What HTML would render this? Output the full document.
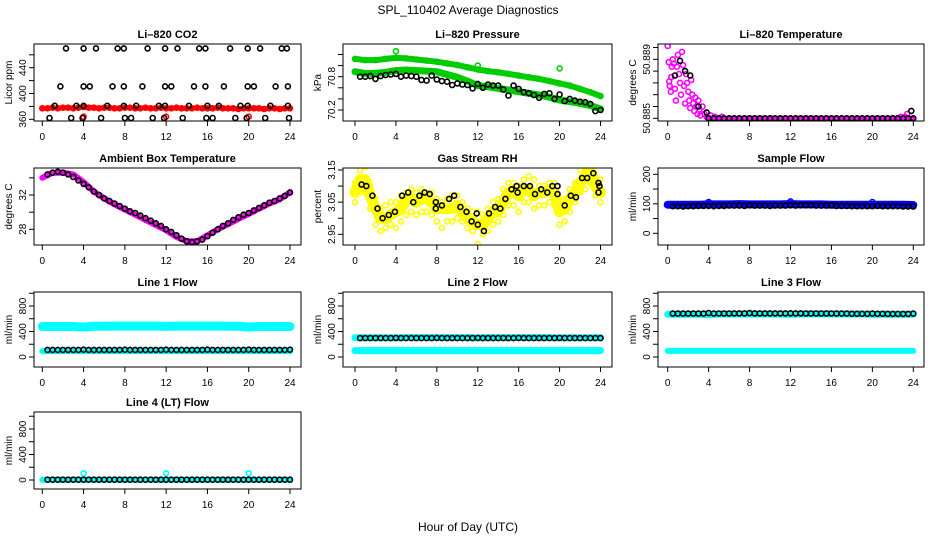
<!DOCTYPE html>
<html><head><meta charset="utf-8"><title>SPL_110402 Average Diagnostics</title>
<style>
html,body{margin:0;padding:0;background:#fff;}
svg{display:block;font-family:"Liberation Sans",Arial,sans-serif;}
</style></head>
<body>
<svg id="fig" width="936" height="540" viewBox="0 0 936 540" xmlns="http://www.w3.org/2000/svg">
<rect x="0" y="0" width="936" height="540" fill="#fff"/>
<text x="468" y="14" font-size="12" text-anchor="middle">SPL_110402  Average Diagnostics</text>
<text x="468" y="531" font-size="12" text-anchor="middle">Hour of Day (UTC)</text>
</svg>
<script>
// ---- shared x data ----
const hourGrid=[0,1,2,3,4,5,6,7,8,9,10,11,12,13,14,15,16,17,18,19,20,21,22,23,24];
const halfGrid=[0,0.5,1,1.5,2,2.5,3,3.5,4,4.5,5,5.5,6,6.5,7,7.5,8,8.5,9,9.5,10,10.5,11,11.5,12,12.5,13,13.5,14,14.5,15,15.5,16,16.5,17,17.5,18,18.5,19,19.5,20,20.5,21,21.5,22,22.5,23,23.5,24];
const halfHours=[0.5,1,1.5,2,2.5,3,3.5,4,4.5,5,5.5,6,6.5,7,7.5,8,8.5,9,9.5,10,10.5,11,11.5,12,12.5,13,13.5,14,14.5,15,15.5,16,16.5,17,17.5,18,18.5,19,19.5,20,20.5,21,21.5,22,22.5,23,23.5,24];
const xTicks=[0,4,8,12,16,20,24];
const outlierHours=[4,12,20];

// ---- CO2 ----
const co2Red=[377,377,378,377,378,378,377,378,379,378,378,377,378,378,377,377,378,378,377,377,378,377,377,378,377,377,378,377,377,377,378,377,377,377,378,377,377,377,376,377,377,377,377,376,377,377,376,377,377];
const co2RedOutliers=[364,364,364];
const co2BlackHours=[2.3,4.0,5.2,7.3,7.9,10.2,11.9,13.1,15.2,15.8,18.2,19.9,21.1,23.2,23.7, 1.75,4.0,4.6,6.8,7.9,9.7,11.9,12.5,14.7,15.8,17.6,19.9,20.5,22.6,23.8, 1.2,3.3,4.0,6.3,7.9,9.1,11.3,11.9,14.2,16.0,17.1,19.2,19.9,22.1,23.8, 0.7,2.8,3.9,5.7,8.0,8.6,10.7,11.8,13.6,15.9,16.5,18.7,19.8,21.6,23.9];
const co2BlackVals=[470,470,470,470,470,470,470,470,470,470,470,470,470,470,470, 411,411,411,411,411,411,411,411,411,411,411,411,411,411,411, 381,381,381,381,381,381,381,381,381,381,381,381,381,381,381, 362,362,362,362,362,362,362,362,362,362,362,362,362,362,362];
const co2Ticks=[360,380,400,420,440,460];
const co2Labels=[360,400,440];

// ---- Pressure ----
const presUpper=[71.12,71.10,71.10,71.12,71.14,71.13,71.11,71.09,71.07,71.04,71.01,70.97,70.93,70.90,70.88,70.85,70.82,70.79,70.76,70.72,70.68,70.64,70.58,70.52,70.45];
const presLower=[70.89,70.86,70.86,70.88,70.91,70.92,70.91,70.90,70.89,70.84,70.79,70.72,70.64,70.62,70.59,70.56,70.53,70.50,70.47,70.43,70.38,70.35,70.32,70.28,70.22];
const presOutliers=[71.26,71.0,70.95];
const presBlack=[70.80,70.80,70.81,70.76,70.81,70.83,70.84,70.85,70.80,70.82,70.81,70.80,70.74,70.73,70.82,70.75,70.72,70.71,70.65,70.68,70.66,70.65,70.59,70.67,70.60,70.66,70.64,70.64,70.57,70.46,70.64,70.58,70.52,70.50,70.47,70.42,70.49,70.50,70.40,70.48,70.36,70.40,70.37,70.35,70.34,70.31,70.18,70.20];
const presTicks=[70.2,70.4,70.6,70.8,71.0,71.2];
const presLabels=[70.2,70.8];

// ---- Li-820 temperature ----
const tempPinkHours=[0,0.1,0.15,0.2,0.3,0.35,0.4,0.5,0.6,0.7,0.8,0.9,1.0,1.1,1.2,1.3,1.4,1.5,1.6,1.7,1.8,1.9,2.0,2.1,2.2,2.3,2.4,2.5,2.6,2.7,2.8,2.9,3.0,3.1,3.2,3.4,3.6,3.8,4.2,4.6,5.3,22.8,23.2,23.4];
const tempPinkVals=[50.8899,50.8888,50.8875,50.8872,50.8868,50.8878,50.8885,50.8890,50.8887,50.8870,50.8862,50.8885,50.8893,50.8880,50.8874,50.8866,50.8895,50.8886,50.8872,50.8860,50.8880,50.8874,50.8868,50.8862,50.8857,50.8876,50.8866,50.8860,50.8855,50.8864,50.8858,50.8853,50.8862,50.8856,50.8852,50.8858,50.8853,50.8851,50.8852,50.8851,50.8851,50.8851,50.8851,50.8853];
const tempFlat=[50.8850,50.8850,50.8850,50.8850,50.8850,50.8850,50.8850,50.8850,50.8850,50.8850,50.8850,50.8850,50.8850,50.8850,50.8850,50.8850,50.8850,50.8850,50.8850,50.8850,50.8850];
const tempFlatHours=[4,5,6,7,8,9,10,11,12,13,14,15,16,17,18,19,20,21,22,23,24];
const tempBlackHours=[0.7,1.2,1.7,2.2,3.0,3.8,4,4.5,5,5.5,6,6.5,7,7.5,8,8.5,9,9.5,10,10.5,11,11.5,12,12.5,13,13.5,14,14.5,15,15.5,16,16.5,17,17.5,18,18.5,19,19.5,20,20.5,21,21.5,22,22.5,23,23.5,23.8,24];
const tempBlackVals=[50.8879,50.8889,50.8882,50.8879,50.8858,50.8854,50.8850,50.8850,50.8850,50.8850,50.8850,50.8850,50.8850,50.8850,50.8850,50.8850,50.8850,50.8850,50.8850,50.8850,50.8850,50.8850,50.8850,50.8850,50.8850,50.8850,50.8850,50.8850,50.8850,50.8850,50.8850,50.8850,50.8850,50.8850,50.8850,50.8850,50.8850,50.8850,50.8850,50.8850,50.8850,50.8850,50.8850,50.8850,50.8850,50.8850,50.8855,50.8850];
const tempTicks=[50.885,50.8858,50.8866,50.8874,50.8882,50.889,50.8898];
const tempLabels=[50.885,50.889];

// ---- Ambient box temperature ----
const ambPink=[34.0,34.6,34.6,34.4,33.5,32.4,31.6,30.9,30.3,29.7,29.1,28.5,27.9,27.1,26.6,26.6,27.3,28.0,28.6,29.2,29.8,30.4,31.0,31.5,32.3];
const ambBlack=[34.4,34.6,34.7,34.6,34.4,34.1,33.7,33.3,32.9,32.4,32.0,31.6,31.3,31.0,30.7,30.4,30.1,29.9,29.6,29.3,29.0,28.7,28.4,28.0,27.7,27.3,26.9,26.6,26.5,26.6,26.8,27.2,27.6,28.0,28.4,28.7,29.1,29.4,29.7,29.9,30.2,30.5,30.8,31.1,31.3,31.6,31.9,32.3];
const ambTicks=[28,30,32,34];
const ambLabels=[28,32];

// ---- Gas stream RH ----
const rhYellow=[3.08,3.12,3.12,3.07,3.03,3.00,3.00,3.01,3.02,3.03,3.06,3.06,3.05,3.06,3.06,3.05,3.03,3.03,3.03,3.03,3.04,3.02,3.00,2.99,2.98,2.98,3.00,3.02,3.02,3.05,3.08,3.08,3.07,3.09,3.09,3.07,3.08,3.08,3.09,3.08,3.02,3.03,3.06,3.08,3.11,3.13,3.15,3.10,3.08];
const rhYellowHi=[3.11,3.15,3.16,3.10,3.06,3.03,3.04,3.05,3.05,3.07,3.08,3.09,3.08,3.09,3.08,3.08,3.06,3.05,3.06,3.07,3.07,3.05,3.03,3.02,3.02,3.01,3.03,3.05,3.06,3.09,3.11,3.11,3.10,3.12,3.13,3.12,3.10,3.10,3.11,3.11,3.06,3.06,3.09,3.11,3.15,3.16,3.17,3.13,3.12];
const rhYellowLo=[3.05,3.08,3.08,3.03,2.98,2.96,2.97,2.98,2.97,2.99,3.01,3.02,3.01,3.02,3.02,3.01,2.99,2.97,2.99,2.99,3.00,2.99,2.97,2.96,2.92,2.95,2.96,2.98,2.99,3.01,3.04,3.04,3.02,3.05,3.05,3.03,3.04,3.04,3.05,3.04,2.98,2.99,3.02,3.05,3.08,3.09,3.11,3.07,3.05];
const rhBlackHours=[0.65,1.1,1.7,2.2,2.7,3.3,3.9,4.6,5.2,5.7,6.3,6.8,7.3,7.9,7.9,8.5,9.2,9.7,10.3,10.9,11.4,11.9,12.0,12.6,13.1,13.7,14.2,14.7,15.3,15.8,15.9,16.5,17.1,17.6,18.2,18.8,19.3,19.8,19.8,20.5,21.1,21.6,22.2,22.7,23.3,23.8,23.9,23.8];
const rhBlackVals=[3.105,3.10,3.07,3.03,3.00,3.01,3.02,3.07,3.08,3.05,3.07,3.08,3.075,3.05,3.03,3.04,3.06,3.07,3.035,3.02,2.99,3.015,2.98,2.96,3.015,3.035,3.03,3.06,3.09,3.10,3.08,3.10,3.10,3.075,3.09,3.08,3.10,3.10,3.075,3.04,3.07,3.065,3.125,3.125,3.14,3.11,3.10,3.08];
const rhTicks=[2.95,3.00,3.05,3.10,3.15];
const rhLabels=[2.95,3.05,3.15];

// ---- Sample flow ----
const sampleBlue=[97,97,97,97,98,98,98,99,98,98,98,98,99,98,98,98,97,97,97,97,97,97,97,97,96];
const sampleOutliers=[106,108,106];
const sampleBlack=[92,92,91,92,92,93,93,93,92,93,93,94,94,94,93,95,94,94,94,93,94,94,94,95,94,95,95,95,94,94,94,95,93,93,93,92,92,92,92,92,93,92,92,92,92,91,91,91];
const sampleTicks=[0,50,100,150,200];
const sampleLabels=[0,100,200];

// ---- Line flows ----
const flowTicks=[0,200,400,600,800,1000];
const flowLabels=[0,400,800];
const line1Upper=[478,478,478,478,470,482,483,484,484,484,484,484,480,484,484,484,484,484,483,482,470,478,478,478,478];
const line1Lower=[92,92,92,92,92,92,92,92,92,92,92,92,92,92,92,92,92,92,92,92,92,92,92,92,92];
const line1Black=[112,112,112,112,112,112,112,114,112,112,112,112,112,112,112,114,112,112,112,112,112,112,112,114,112,112,112,112,112,112,112,114,112,112,112,112,112,112,112,114,112,112,112,112,112,112,112,114];
const line2Upper=[303,303,303,303,300,305,305,305,305,305,305,305,300,305,305,305,305,305,305,305,300,303,303,303,303];
const line2Lower=[100,100,100,100,100,100,100,100,100,100,100,100,100,100,100,100,100,100,100,100,100,100,100,100,100];
const line2Black=[296,296,296,296,296,296,296,300,296,296,296,296,296,296,296,300,296,296,296,296,296,296,296,300,296,296,296,296,296,296,296,300,296,296,296,296,296,296,296,300,296,296,296,296,296,296,296,296];
const line3Upper=[670,672,672,672,665,674,675,675,675,675,675,675,668,676,676,676,676,674,674,674,668,672,672,672,670];
const line3Lower=[96,96,96,96,96,96,96,96,96,96,96,96,96,96,96,96,96,96,96,96,96,96,96,96,96];
const line3Black=[680,680,680,680,680,680,680,690,682,682,682,682,684,684,684,688,684,684,684,684,684,684,684,686,684,684,682,682,682,682,682,682,680,680,680,678,678,678,678,680,678,678,676,676,676,676,676,680];
const line4Cyan=[5,5,5,5,5,5,5,5,5,5,5,5,5,5,5,5,5,5,5,5,5,5,5,5,5];
const line4Outliers=[105,105,105];
const line4Black=[5,5,5,5,5,5,5,5,5,5,5,5,5,5,5,5,5,5,5,5,5,5,5,5,5,5,5,5,5,5,5,5,5,5,5,5,5,5,5,5,5,5,5,5,5,5,5,5];

const NS="http://www.w3.org/2000/svg";
const svg=document.getElementById('fig');
function mk(tag,attrs,parent){const e=document.createElementNS(NS,tag);for(const k in attrs)e.setAttribute(k,attrs[k]);parent.appendChild(e);return e;}

function makePanel(cfg){
  const g=mk('g',{},svg);
  
  
  const xs=h=>cfg.x0+(cfg.x24-cfg.x0)*h/24;
  const ys=v=>cfg.p1+(cfg.p2-cfg.p1)*(v-cfg.v1)/(cfg.v2-cfg.v1);
  const clip='clip-'+cfg.name;
  const cp=mk('clipPath',{id:clip},g);
  mk('rect',{x:cfg.l,y:cfg.t,width:cfg.r-cfg.l,height:cfg.b-cfg.t},cp);
  const plot=mk('g',{'clip-path':'url(#'+clip+')'},g);
  
  
  const box=mk('rect',{x:cfg.l,y:cfg.t,width:cfg.r-cfg.l,height:cfg.b-cfg.t,fill:'none',stroke:'#000','stroke-width':1},g);
  
  
  const title=mk('text',{x:(cfg.l+cfg.r)/2,y:cfg.t-6,'font-size':11,'font-weight':'bold','text-anchor':'middle'},g);
  title.textContent=cfg.title;
  
  
  xTicks.forEach(h=>{
    const tk=mk('line',{x1:xs(h),x2:xs(h),y1:cfg.b,y2:cfg.b+5,stroke:'#000'},g);
    
    
    const tl=mk('text',{x:xs(h),y:cfg.b+19,'font-size':10,'text-anchor':'middle'},g);
    tl.textContent=String(h);
    
    
  });
  cfg.yTicks.forEach(v=>{
    const tk=mk('line',{x1:cfg.l-5,x2:cfg.l,y1:ys(v),y2:ys(v),stroke:'#000'},g);
    
    
  });
  cfg.yLabels.forEach(v=>{
    const x=cfg.l-8,y=ys(v);
    const tl=mk('text',{x:x,y:y,'font-size':10,'text-anchor':'middle',transform:'rotate(-90 '+x+' '+y+')'},g);
    tl.textContent=cfg.fmt?cfg.fmt(v):String(v);
    
    
  });
  const yx=cfg.l-22,yy=(cfg.t+cfg.b)/2;
  const yl=mk('text',{x:yx,y:yy,'font-size':10,'text-anchor':'middle',transform:'rotate(-90 '+yx+' '+yy+')'},g);
  yl.textContent=cfg.ylab;
  
  
  return {plot,xs,ys};
}

function band(P,hours,vals,color,w,name){
  const pts=hours.map((h,i)=>P.xs(h).toFixed(1)+','+P.ys(vals[i]).toFixed(1)).join(' ');
  const pl=mk('polyline',{points:pts,fill:'none',stroke:color,'stroke-width':w,'stroke-linecap':'round','stroke-linejoin':'round'},P.plot);
  
  
}
function dots(P,hours,vals,color,name){
  const g=mk('g',{},P.plot);
  
  
  hours.forEach((h,i)=>{
    const c=mk('circle',{cx:P.xs(h).toFixed(1),cy:P.ys(vals[i]).toFixed(1),r:2.5,fill:'none',stroke:color,'stroke-width':1.6},g);
    
    
  });
}

const C1={l:34,r:301,x0:42.3,x24:290};
const C2={l:343,r:612,x0:355,x24:600.5};
const C3={l:658,r:924,x0:667.7,x24:913.3};
const R1={t:44,b:121},R2={t:168,b:245},R3={t:292,b:367},R4={t:412,b:489};

// CO2
let P=makePanel(Object.assign({name:'co2-panel',title:'Li\u2013820 CO2',ylab:'Licor ppm',v1:360,p1:119.3,v2:440,p2:67.7,yTicks:co2Ticks,yLabels:co2Labels},C1,R1));
band(P,halfGrid,co2Red,'#ff0000',5,'co2-red-band');
dots(P,halfGrid,co2Red,'#ff0000','co2-red-series');
dots(P,outlierHours,co2RedOutliers,'#ff0000','co2-red-outliers');
dots(P,co2BlackHours,co2BlackVals,'#000','co2-black-series');

// Pressure
P=makePanel(Object.assign({name:'pressure-panel',title:'Li\u2013820 Pressure',ylab:'kPa',v1:70.2,p1:110,v2:70.8,p2:76.7,yTicks:presTicks,yLabels:presLabels,fmt:v=>v.toFixed(1)},C2,R1));
band(P,hourGrid,presUpper,'#00cd00',6,'pressure-upper-band');
band(P,hourGrid,presLower,'#00cd00',7,'pressure-lower-band');
dots(P,hourGrid,presUpper,'#00cd00','pressure-upper-series');
dots(P,hourGrid,presLower,'#00cd00','pressure-lower-series');
dots(P,outlierHours,presOutliers,'#00cd00','pressure-outliers');
dots(P,halfHours,presBlack,'#000','pressure-black-series');

// Temperature
P=makePanel(Object.assign({name:'li820-temperature-panel',title:'Li\u2013820 Temperature',ylab:'degrees C',v1:50.885,p1:118.3,v2:50.889,p2:59.3,yTicks:tempTicks,yLabels:tempLabels,fmt:v=>v.toFixed(3)},C3,R1));
band(P,tempFlatHours,tempFlat,'#ff00ff',5,'temperature-flat-band');
dots(P,tempPinkHours,tempPinkVals,'#ff00ff','temperature-magenta-series');
dots(P,tempBlackHours,tempBlackVals,'#000','temperature-black-series');

// Ambient
P=makePanel(Object.assign({name:'ambient-temperature-panel',title:'Ambient Box Temperature',ylab:'degrees C',v1:32,p1:195,v2:28,p2:229.3,yTicks:ambTicks,yLabels:ambLabels},C1,R2));
band(P,hourGrid,ambPink,'#ff00ff',6,'ambient-magenta-band');
dots(P,halfHours,ambBlack,'#000','ambient-black-series');

// RH
P=makePanel(Object.assign({name:'gas-rh-panel',title:'Gas Stream RH',ylab:'percent',v1:3.15,p1:170,v2:2.95,p2:234.3,yTicks:rhTicks,yLabels:rhLabels,fmt:v=>v.toFixed(2)},C2,R2));
band(P,halfGrid,rhYellow,'#ffff00',11,'rh-yellow-band');
dots(P,halfGrid,rhYellowHi,'#ffff00','rh-yellow-upper');
dots(P,halfGrid,rhYellowLo,'#ffff00','rh-yellow-lower');
dots(P,rhBlackHours,rhBlackVals,'#000','rh-black-series');

// Sample flow
P=makePanel(Object.assign({name:'sample-flow-panel',title:'Sample Flow',ylab:'ml/min',v1:0,p1:233.3,v2:200,p2:174.3,yTicks:sampleTicks,yLabels:sampleLabels},C3,R2));
band(P,hourGrid,sampleBlue,'#0000ff',8,'sample-blue-band');
dots(P,outlierHours,sampleOutliers,'#0000ff','sample-outliers');
dots(P,halfHours,sampleBlack,'#000','sample-black-series');

// Line 1
P=makePanel(Object.assign({name:'line1-flow-panel',title:'Line 1 Flow',ylab:'ml/min',v1:0,p1:357,v2:800,p2:306,yTicks:flowTicks,yLabels:flowLabels},C1,R3));
band(P,hourGrid,line1Upper,'#00ffff',9,'line1-upper-band');
band(P,hourGrid,line1Lower,'#00ffff',6,'line1-lower-band');
dots(P,hourGrid,line1Upper,'#00ffff','line1-upper-series');
dots(P,halfHours,line1Black,'#000','line1-black-series');

// Line 2
P=makePanel(Object.assign({name:'line2-flow-panel',title:'Line 2 Flow',ylab:'ml/min',v1:0,p1:357,v2:800,p2:306,yTicks:flowTicks,yLabels:flowLabels},C2,R3));
band(P,hourGrid,line2Upper,'#00ffff',7,'line2-upper-band');
band(P,hourGrid,line2Lower,'#00ffff',7,'line2-lower-band');
dots(P,halfHours,line2Black,'#000','line2-black-series');

// Line 3
P=makePanel(Object.assign({name:'line3-flow-panel',title:'Line 3 Flow',ylab:'ml/min',v1:0,p1:357,v2:800,p2:306,yTicks:flowTicks,yLabels:flowLabels},C3,R3));
band(P,hourGrid,line3Upper,'#00ffff',7,'line3-upper-band');
band(P,hourGrid,line3Lower,'#00ffff',6,'line3-lower-band');
dots(P,halfHours,line3Black,'#000','line3-black-series');

// Line 4
P=makePanel(Object.assign({name:'line4-flow-panel',title:'Line 4 (LT) Flow',ylab:'ml/min',v1:0,p1:480,v2:800,p2:429,yTicks:flowTicks,yLabels:flowLabels},C1,R4));
band(P,hourGrid,line4Cyan,'#00ffff',6,'line4-cyan-band');
dots(P,outlierHours,line4Outliers,'#00ffff','line4-outliers');
dots(P,halfHours,line4Black,'#000','line4-black-series');
</script>
</body></html>
